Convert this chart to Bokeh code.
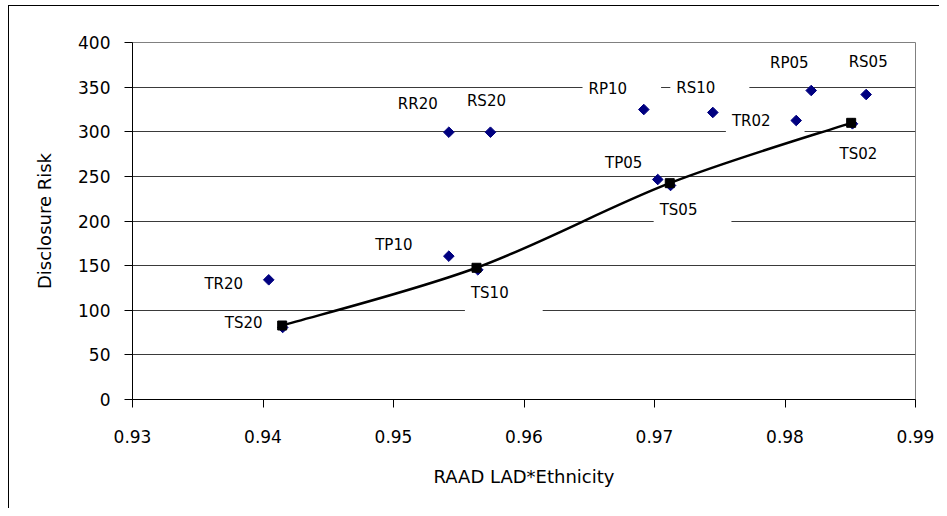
import numpy as np
from bokeh.plotting import figure
from bokeh.models import ColumnDataSource, FixedTicker, Range1d
from bokeh.core.properties import value
from bokeh.embed import file_html
from bokeh.resources import INLINE

# ---- data ----
point_labels = ["TR20", "TS20", "RR20", "RS20", "TP10", "TS10", "RP10",
                "RS10", "TP05", "TS05", "RP05", "RS05", "TR02", "TS02"]
raad = [0.94044, 0.94151, 0.95424, 0.95743, 0.95424, 0.95646, 0.96918,
        0.97447, 0.97025, 0.97123, 0.98201, 0.98622, 0.98086, 0.98517]
risk = [134.1, 80.7, 299.5, 299.5, 160.6, 145.3, 324.9,
        321.6, 246.5, 239.8, 346.2, 341.7, 312.6, 308.9]

ts_raad = [0.94147, 0.95636, 0.97117, 0.98507]
ts_risk = [82.9, 147.6, 242.4, 310.0]

x_ticks = [0.93, 0.94, 0.95, 0.96, 0.97, 0.98, 0.99]
y_ticks = [0, 50, 100, 150, 200, 250, 300, 350, 400]

# ---- label placement (screen pixel offsets, layout only) ----
label_dx = [-45, -39, -31, -4, -55, 12, -36, -17, -34, 8, -22, 2, -45, 6]
label_dy = [4, -4, -28, -31, -11, 23, -21, -24, -16, 25, -28, -33, 0, 30]
boxed = {"RP10", "RS10", "TR02", "TS05", "TS10"}
box_pad = dict(left=6, right=34, top=2, bottom=16)

FONT = "DejaVu Sans"

p = figure(width=939, height=508,
           x_range=Range1d(0.93, 0.99), y_range=Range1d(0, 400),
           output_backend="svg", toolbar_location=None,
           min_border_left=132, min_border_right=24,
           min_border_top=42, min_border_bottom=109)
# outer chart-area frame (top and left edges, like the cropped Excel chart)
p.border_fill_color = None
p.styles = {
    "background": ("linear-gradient(#000, #000) 8px 5px / 1px 100% no-repeat, "
                   "linear-gradient(#000, #000) 8px 5px / 100% 1px no-repeat, "
                   "#ffffff"),
}

p.background_fill_color = "white"
p.outline_line_color = "#808080"
p.outline_line_width = 1

p.xgrid.visible = False
p.ygrid.ticker = FixedTicker(ticks=y_ticks)
p.ygrid.grid_line_color = "#3a3a3a"
p.ygrid.grid_line_width = 1

for ax in (p.xaxis[0], p.yaxis[0]):
    ax.axis_line_color = "black"
    ax.major_tick_line_color = "black"
    ax.major_tick_out = 8
    ax.major_tick_in = 0
    ax.minor_tick_line_color = None
    ax.major_label_text_font = FONT
    ax.major_label_text_font_size = "17px"
    ax.major_label_text_color = "black"
    ax.axis_label_text_font = FONT
    ax.axis_label_text_font_size = "18px"
    ax.axis_label_text_font_style = "normal"
    ax.axis_label_text_color = "black"

p.xaxis.ticker = FixedTicker(ticks=x_ticks)
p.yaxis.ticker = FixedTicker(ticks=y_ticks)
p.xaxis.major_label_standoff = 22
p.yaxis.major_label_standoff = 14
p.xaxis.axis_label = "RAAD LAD*Ethnicity"
p.yaxis.axis_label = "Disclosure Risk"
p.xaxis.axis_label_standoff = 20
p.yaxis.axis_label_standoff = 20

# ---- labels (drawn first so their white boxes only hide gridlines) ----
def label_source(keep, sx=0.0, sy=0.0):
    idx = [i for i, l in enumerate(point_labels) if keep(l)]
    return ColumnDataSource(dict(
        x=[raad[i] for i in idx], y=[risk[i] for i in idx],
        text=[point_labels[i] for i in idx],
        dx=[label_dx[i] + sx for i in idx], dy=[label_dy[i] + sy for i in idx]))

common = dict(x="x", y="y", text="text", x_offset="dx", y_offset="dy",
              text_font=value(FONT), text_font_size="15px",
              text_align="center", text_baseline="middle", text_color="black")
p.text(source=label_source(lambda l: l not in boxed), **common)
# asymmetric padding moves the text inside its box; compensate so the text stays put
shift_x = (box_pad["right"] - box_pad["left"]) / 2
shift_y = (box_pad["bottom"] - box_pad["top"]) / 2
p.text(source=label_source(lambda l: l in boxed, shift_x, shift_y),
       background_fill_color="white", padding=box_pad, **common)

# ---- all methods: navy diamonds ----
p.scatter(raad, risk, marker="square", angle=np.pi / 4, size=7.5,
          fill_color="#000080", line_color="#000080")

# ---- TS series: smoothed line with black squares ----
P = np.column_stack([ts_raad, ts_risk])
E = np.vstack([P[0], P, P[-1]])
c1 = E[1:-2] + (E[2:-1] - E[:-3]) / 6.0
c2 = E[2:-1] - (E[3:] - E[1:-2]) / 6.0
p.bezier(x0=P[:-1, 0], y0=P[:-1, 1], x1=P[1:, 0], y1=P[1:, 1],
         cx0=c1[:, 0], cy0=c1[:, 1], cx1=c2[:, 0], cy1=c2[:, 1],
         line_color="black", line_width=2.5)
p.scatter(ts_raad, ts_risk, marker="square", size=9,
          fill_color="black", line_color="black")

open("out.html", "w").write(file_html(p, INLINE))
